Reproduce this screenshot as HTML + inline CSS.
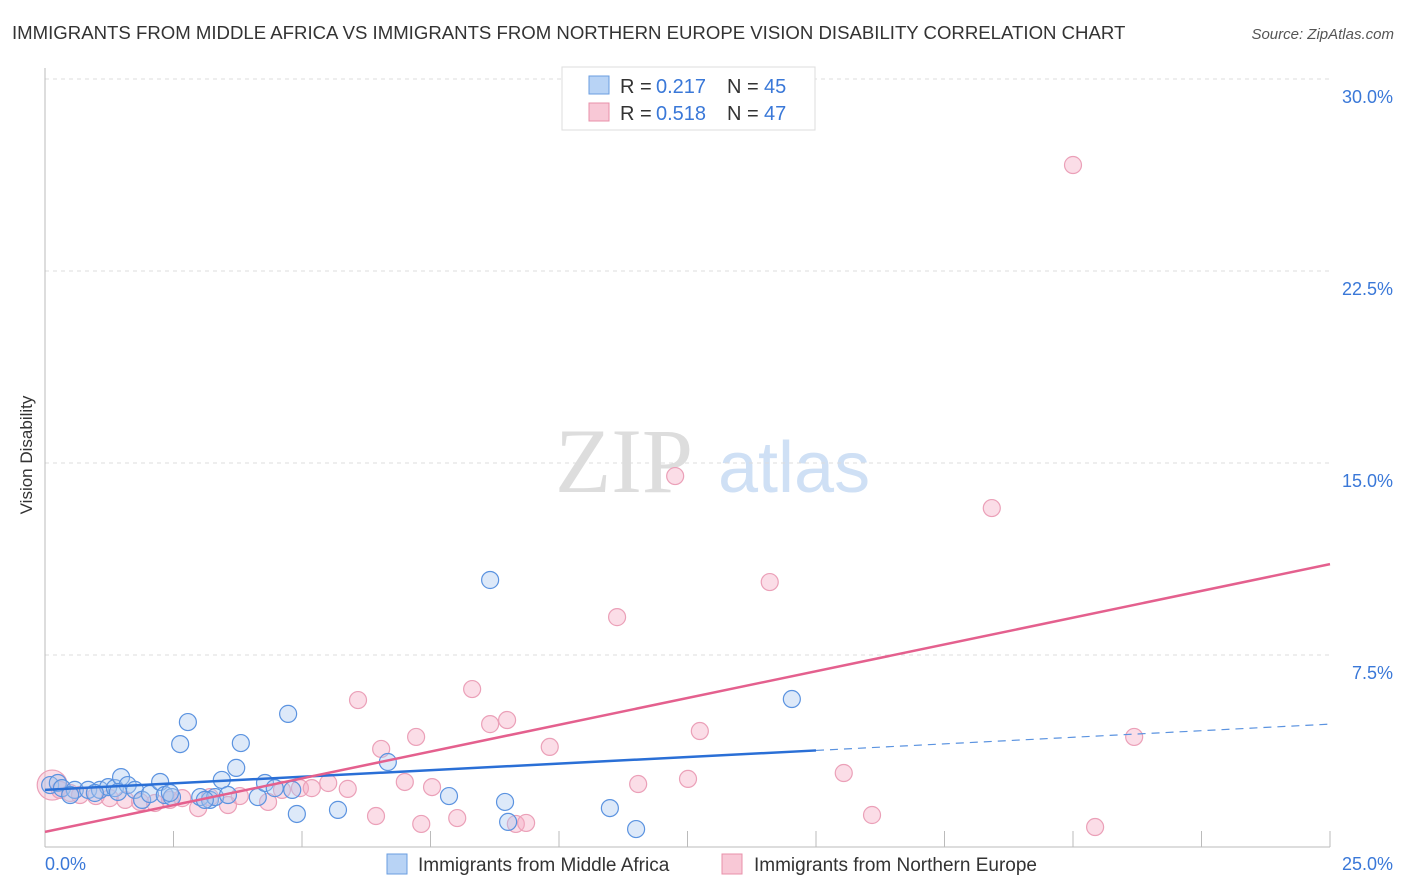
<!DOCTYPE html>
<html><head><meta charset="utf-8"><style>
body{margin:0;background:#fff;font-family:"Liberation Sans",sans-serif;}
svg{display:block}
</style></head><body>
<svg width="1406" height="892" id="chart" xmlns="http://www.w3.org/2000/svg">
<text x="12" y="39" font-size="18.6" fill="#333">IMMIGRANTS FROM MIDDLE AFRICA VS IMMIGRANTS FROM NORTHERN EUROPE VISION DISABILITY CORRELATION CHART</text>
<text x="1394" y="39" font-size="15" fill="#555" font-style="italic" text-anchor="end">Source: ZipAtlas.com</text>
<text x="32" y="455" font-size="17" fill="#333" text-anchor="middle" transform="rotate(-90 32 455)">Vision Disability</text>
<text x="555" y="492" font-size="92" fill="#ddd" font-family="Liberation Serif,serif">ZIP</text>
<text x="718" y="492" font-size="72" fill="#cfe0f5">atlas</text>
<g id="grid"></g><g id="pts"></g><g id="lines"></g>
<g>
<rect x="562" y="67" width="253" height="63" fill="#fff" stroke="#ddd"/>
<rect x="589" y="76" width="20" height="18" fill="#b8d3f5" stroke="#6a9ee0"/>
<text x="620" y="93" font-size="20" fill="#333">R =</text>
<text x="656" y="93" font-size="20" fill="#3a78d8">0.217</text>
<text x="727" y="93" font-size="20" fill="#333">N =</text>
<text x="764" y="93" font-size="20" fill="#3a78d8">45</text>
<rect x="589" y="103" width="20" height="18" fill="#f8c8d6" stroke="#e890aa"/>
<text x="620" y="120" font-size="20" fill="#333">R =</text>
<text x="656" y="120" font-size="20" fill="#3a78d8">0.518</text>
<text x="727" y="120" font-size="20" fill="#333">N =</text>
<text x="764" y="120" font-size="20" fill="#3a78d8">47</text>
</g>
<g>
<rect x="387" y="854" width="20" height="20" fill="#b8d3f5" stroke="#6a9ee0"/>
<text x="418" y="871" font-size="19" fill="#333">Immigrants from Middle Africa</text>
<rect x="722" y="854" width="20" height="20" fill="#f8c8d6" stroke="#e890aa"/>
<text x="754" y="871" font-size="19" fill="#333">Immigrants from Northern Europe</text>
</g>
</svg>
<script>
const yTicks=[7.5,15,22.5,30];
const xTickLabels=["0.0%","25.0%"];
const blueX=[.10,.25,.33,.58,.84,1.07,1.23,1.36,1.48,1.61,1.75,1.89,2.04,2.24,2.33,2.47,2.63,2.78,3.02,3.21,3.31,3.44,3.56,3.72,3.81,4.14,4.28,4.47,4.73,4.81,4.90,5.70,6.67,7.86,8.66,8.95,9.01,10.99,11.50,14.53,.49,.97,3.11,2.43,1.42];
const blueY=[2.42,2.50,2.30,2.23,2.23,2.23,2.34,2.30,2.73,2.42,2.23,1.84,2.07,2.54,2.03,1.95,4.02,4.88,1.95,1.84,1.95,2.62,2.03,3.09,4.06,1.95,2.50,2.30,5.20,2.23,1.29,1.45,3.32,1.99,10.43,1.76,0.98,1.52,0.70,5.78,2.03,2.11,1.84,2.11,2.15];
const pinkX=[.14,.29,.49,.68,.99,1.26,1.56,1.85,2.14,2.43,2.67,2.98,3.21,3.56,3.79,4.34,4.61,4.96,5.19,5.51,5.89,6.09,6.44,6.54,7.00,7.22,7.32,7.53,8.02,8.31,8.66,8.99,9.16,9.36,9.82,11.13,11.54,12.26,12.51,12.74,14.10,15.54,16.09,18.42,20.00,20.43,21.19];
const pinkY=[2.42,2.23,2.11,2.03,1.99,1.91,1.84,1.76,1.72,1.84,1.91,1.52,1.95,1.64,1.99,1.76,2.23,2.30,2.30,2.50,2.27,5.74,1.21,3.83,2.54,4.30,0.90,2.34,1.13,6.17,4.80,4.96,0.90,0.94,3.91,8.98,2.46,14.49,2.66,4.53,10.35,2.89,1.25,13.24,26.64,0.78,4.30];
const blueTrend=[2.23,4.80];
const pinkTrend=[0.59,11.05];
const NS="http://www.w3.org/2000/svg";
const X=v=>45+v/25*1285, Y=v=>847-v/7.5*192;
function mk(t,a,p){const e=document.createElementNS(NS,t);for(const k in a)e.setAttribute(k,a[k]);document.getElementById(p).appendChild(e);return e;}
yTicks.forEach(t=>{
 const l=mk('line',{x1:45,x2:1330,y1:Y(t),y2:Y(t),stroke:'#ddd','stroke-dasharray':'4 4'},'grid');
 
 
 const tx=mk('text',{x:1393,y:Y(t)+24,'font-size':18,fill:'#3a78d8','text-anchor':'end'},'grid');
 tx.textContent=t.toFixed(1)+'%';
 
 
});
const ax=mk('line',{x1:45,x2:45,y1:68,y2:847,stroke:'#bbb'},'grid');


const bx=mk('line',{x1:45,x2:1330,y1:847,y2:847,stroke:'#bbb'},'grid');


for(let i=1;i<=10;i++){const t=mk('line',{x1:X(i*2.5),x2:X(i*2.5),y1:831,y2:847,stroke:'#bbb'},'grid');
 
 }
[[0,'start',45],[25,'end',1393]].forEach((d,i)=>{const t=mk('text',{x:d[2],y:870,'font-size':18,fill:'#3a78d8','text-anchor':d[1]},'grid');t.textContent=xTickLabels[i];
 
 });
pinkX.forEach((x,i)=>{const c=mk('circle',{cx:X(x),cy:Y(pinkY[i]),r:i==0?15:8.5,fill:'rgba(245,170,195,0.4)',stroke:'#eba0b8','stroke-width':1.2},'pts');
 
 });
blueX.forEach((x,i)=>{const c=mk('circle',{cx:X(x),cy:Y(blueY[i]),r:8.5,fill:'rgba(170,200,240,0.4)',stroke:'#5b93e0','stroke-width':1.2},'pts');
 
 });
const bAt=x=>blueTrend[0]+(blueTrend[1]-blueTrend[0])*x/25;
let l=mk('line',{x1:X(0),y1:Y(bAt(0)),x2:X(15),y2:Y(bAt(15)),stroke:'#2a6fd6','stroke-width':2.5},'lines');


l=mk('line',{x1:X(15),y1:Y(bAt(15)),x2:X(25),y2:Y(bAt(25)),stroke:'#5b93e0','stroke-width':1.2,'stroke-dasharray':'8 6'},'lines');


l=mk('line',{x1:X(0),y1:Y(pinkTrend[0]),x2:X(25),y2:Y(pinkTrend[1]),stroke:'#e4608e','stroke-width':2.5},'lines');


</script>
</body></html>
